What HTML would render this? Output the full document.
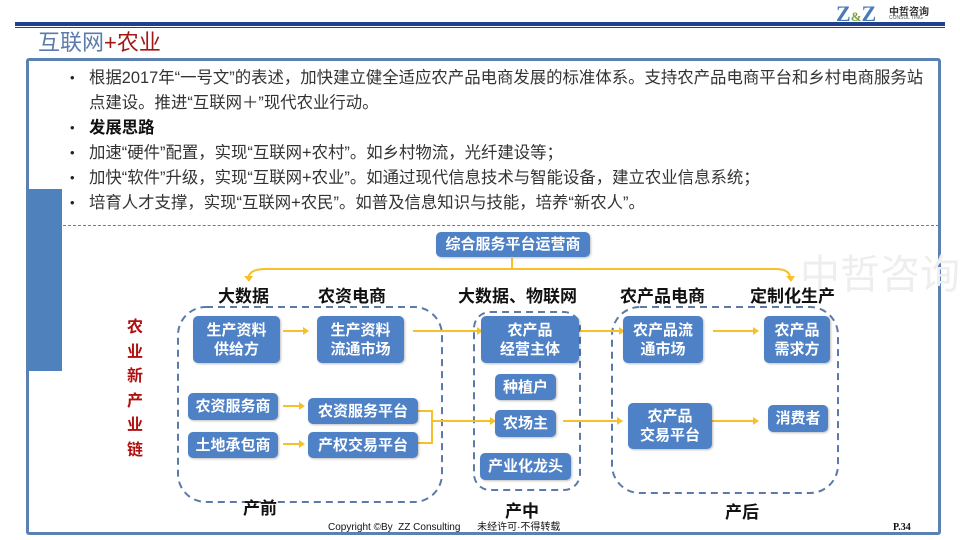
<!DOCTYPE html>
<html><head><meta charset="utf-8"><style>
*{margin:0;padding:0;box-sizing:border-box}
body{width:960px;height:540px;position:relative;background:#fff;font-family:"Liberation Sans","Noto Sans CJK SC",sans-serif;overflow:hidden}
.a{position:absolute}
.box{position:absolute;background:#4f81c7;color:#fff;font-weight:bold;border-radius:5px;display:flex;align-items:center;justify-content:center;text-align:center;font-size:15px;line-height:19px;box-shadow:1px 1px 2px rgba(0,0,0,.25)}
.h{position:absolute;font-weight:bold;font-size:17px;color:#111;white-space:nowrap}
.t{position:absolute;left:89px;font-size:16.4px;color:#333;white-space:nowrap;line-height:20px}
.b{position:absolute;left:70px;font-size:13px;color:#222}
</style></head><body>
<div class="a" style="left:15px;top:22px;width:930px;height:4px;background:#1f3f8f"></div>
<div class="a" style="left:15px;top:27px;width:930px;height:1px;background:#1f3f8f"></div>
<div class="a" style="left:836px;top:1px;font-family:'Liberation Serif',serif;font-size:22px;font-weight:bold;color:#4a7ab8">Z<span style="font-size:13px;color:#7aa040">&amp;</span>Z</div>
<div class="a" style="left:889px;top:3px;font-size:10px;font-weight:bold;color:#333">中哲咨询</div>
<div class="a" style="left:889px;top:15px;font-size:5px;color:#555">CONSUL TING</div>
<div class="a" style="left:38px;top:28px;font-size:22px;line-height:30px;color:#5a7bab;white-space:nowrap">互联网<span style="color:#a01818">+农业</span></div>
<div class="a" style="left:26px;top:58px;width:915px;height:477px;border:3px solid #5b80b2;border-radius:3px"></div>
<div class="a" style="left:28px;top:189px;width:34px;height:182px;background:#4f81bd"></div>
<div class="a" style="left:63px;top:225px;width:876px;border-top:1px dashed #5b80b2"></div>
<div class="b" style="top:70px">•</div><div class="t" style="top:68px">根据2017年“一号文”的表述，加快建立健全适应农产品电商发展的标准体系。支持农产品电商平台和乡村电商服务站</div>
<div class="t" style="top:93px">点建设。推进“互联网＋”现代农业行动。</div>
<div class="b" style="top:120px">•</div><div class="t" style="top:118px;font-weight:bold;color:#111">发展思路</div>
<div class="b" style="top:145px">•</div><div class="t" style="top:143px">加速“硬件”配置，实现“互联网+农村”。如乡村物流，光纤建设等；</div>
<div class="b" style="top:170px">•</div><div class="t" style="top:168px">加快“软件”升级，实现“互联网+农业”。如通过现代信息技术与智能设备，建立农业信息系统；</div>
<div class="b" style="top:195px">•</div><div class="t" style="top:193px">培育人才支撑，实现“互联网+农民”。如普及信息知识与技能，培养“新农人”。</div>
<div class="a" style="left:800px;top:242px;font-size:40px;color:#eeeeee;white-space:nowrap">中哲咨询</div>
<svg class="a" style="left:0;top:0" width="960" height="540">
<g fill="none" stroke="#5b7aa8" stroke-width="2" stroke-dasharray="7,5">
<rect x="178" y="307" width="264" height="195" rx="28"/>
<rect x="474" y="312" width="106" height="178" rx="16"/>
<rect x="612" y="307" width="226" height="186" rx="28"/>
</g>
<g fill="none" stroke="#f5c02a" stroke-width="2">
<path d="M512 258V269M248 278Q250 269 265 269H775Q790 269 790 278"/>
<path d="M283 331H303M413 331H477M580 331H619M713 331H753M283 406H299M283 444H299M418 411H432V443H418M432 421H490M563 421H617M712 421H753"/>
</g>
<g fill="#f5c02a">
<path d="M244 276l5 6 4-6z"/><path d="M786 276l5 6 4-6z"/>
<path d="M303 327l6 4-6 4z"/><path d="M477 327l6 4-6 4z"/><path d="M619 327l6 4-6 4z"/><path d="M753 327l6 4-6 4z"/>
<path d="M299 402l6 4-6 4z"/><path d="M299 440l6 4-6 4z"/><path d="M490 417l6 4-6 4z"/><path d="M617 417l6 4-6 4z"/><path d="M753 417l6 4-6 4z"/>
</g>
</svg>
<div class="box" style="left:436px;top:232px;width:154px;height:25px">综合服务平台运营商</div>
<div class="h" style="left:218px;top:282px">大数据</div>
<div class="h" style="left:318px;top:282px">农资电商</div>
<div class="h" style="left:458px;top:282px">大数据、物联网</div>
<div class="h" style="left:620px;top:282px">农产品电商</div>
<div class="h" style="left:750px;top:282px">定制化生产</div>
<div class="box" style="left:193px;top:316px;width:87px;height:47px">生产资料<br>供给方</div>
<div class="box" style="left:317px;top:316px;width:87px;height:47px">生产资料<br>流通市场</div>
<div class="box" style="left:481px;top:316px;width:98px;height:47px">农产品<br>经营主体</div>
<div class="box" style="left:623px;top:316px;width:80px;height:47px">农产品流<br>通市场</div>
<div class="box" style="left:764px;top:316px;width:66px;height:47px">农产品<br>需求方</div>
<div class="box" style="left:188px;top:393px;width:90px;height:27px">农资服务商</div>
<div class="box" style="left:188px;top:432px;width:90px;height:26px">土地承包商</div>
<div class="box" style="left:308px;top:398px;width:110px;height:26px">农资服务平台</div>
<div class="box" style="left:308px;top:432px;width:110px;height:26px">产权交易平台</div>
<div class="box" style="left:495px;top:374px;width:61px;height:26px">种植户</div>
<div class="box" style="left:495px;top:410px;width:61px;height:27px">农场主</div>
<div class="box" style="left:480px;top:453px;width:91px;height:27px">产业化龙头</div>
<div class="box" style="left:628px;top:403px;width:84px;height:46px">农产品<br>交易平台</div>
<div class="box" style="left:768px;top:405px;width:60px;height:27px">消费者</div>
<div class="a" style="left:126px;top:316px;width:18px;font-size:16px;font-weight:bold;color:#b01010;line-height:24.5px;text-align:center">农<br>业<br>新<br>产<br>业<br>链</div>
<div class="h" style="left:243px;top:494px">产前</div>
<div class="h" style="left:505px;top:497px">产中</div>
<div class="h" style="left:725px;top:498px">产后</div>
<div class="a" style="left:328px;top:518px;font-size:10px;color:#111;white-space:nowrap">Copyright ©By &nbsp;ZZ Consulting &nbsp;&nbsp;&nbsp;&nbsp;&nbsp;未经许可·不得转载</div>
<div class="a" style="left:893px;top:522px;font-family:'Liberation Serif',serif;font-size:10px;font-weight:bold;color:#111">P.34</div>
</body></html>
